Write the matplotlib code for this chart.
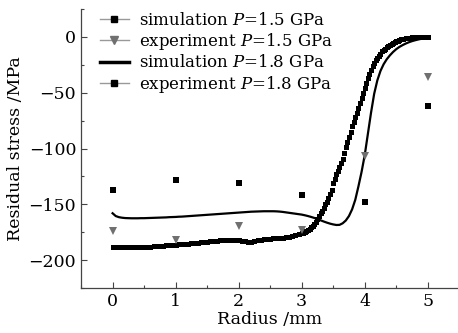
import numpy as np
import matplotlib
matplotlib.use("Agg")
import matplotlib.pyplot as plt
from matplotlib.lines import Line2D

plt.rcParams['font.family'] = ['DejaVu Serif']
plt.rcParams['mathtext.fontset'] = 'custom'
plt.rcParams['mathtext.rm'] = 'DejaVu Serif'
plt.rcParams['mathtext.it'] = 'DejaVu Serif:italic'

# ---- data ----
# simulation P=1.5 GPa
sim15_x_flat = np.round(np.arange(0.0, 2.951, 0.05), 3)
sim15_y_flat = [-188.0, -188.3, -188.5, -188.5, -188.5, -188.5, -188.4, -188.3, -188.2, -188.1,
                -188.0, -187.9, -187.8, -187.6, -187.4, -187.2, -187.0, -186.8, -186.6, -186.3,
                -186.0, -185.8, -185.6, -185.4, -185.2, -185.0, -184.7, -184.4, -184.1, -183.8,
                -183.5, -183.2, -182.9, -182.6, -182.3, -182.0, -181.8, -181.6, -181.6, -181.8,
                -182.2, -182.8, -183.3, -183.6, -183.5, -183.0, -182.4, -181.8, -181.4, -181.0,
                -180.8, -180.6, -180.4, -180.2, -180.0, -179.6, -179.2, -178.6, -177.8, -177.0]
sim15_x_steep = np.round(np.arange(3.0, 4.6001, 0.025), 3)
sim15_y_steep = [-176, -175.5, -175, -174, -173, -172, -170.5, -169, -167.5, -165.5,
                 -163, -160.5, -158, -156, -153, -150, -147.5, -144.5, -141, -137,
                 -131, -127, -123, -120, -117, -113, -109, -104, -99, -94.5,
                 -90, -85, -80, -76, -72, -68, -64, -59, -55, -50,
                 -45.5, -41, -37, -33.5, -30, -26.5, -23.5, -21, -19, -17,
                 -15, -13, -12, -10.5, -9, -8, -7, -6, -5.3, -4.5,
                 -4, -3.4, -2.8, -2.3, -1.9]
sim15_x_tail = np.round(np.arange(4.65, 5.001, 0.05), 3)
sim15_y_tail = [-1.2, -0.8, -0.5, -0.3, 0, 0, 0, 0]

# simulation P=1.8 GPa
sim18_x = np.round(np.arange(0.0, 5.001, 0.05), 3)
sim18_y = [-158.0, -160.5, -161.5, -162.0, -162.3, -162.4, -162.5, -162.5, -162.5, -162.4,
           -162.4, -162.3, -162.2, -162.1, -162.0, -161.9, -161.8, -161.7, -161.5, -161.4,
           -161.3, -161.1, -161.0, -160.8, -160.6, -160.4, -160.2, -160.0, -159.8, -159.6,
           -159.4, -159.2, -159.0, -158.8, -158.6, -158.4, -158.2, -158.0, -157.8, -157.6,
           -157.4, -157.2, -157.0, -156.8, -156.6, -156.5, -156.4, -156.3, -156.2, -156.2,
           -156.2, -156.2, -156.3, -156.5, -156.8, -157.2, -157.6, -158.0, -158.4, -158.8,
           -159.2, -159.8, -160.5, -161.3, -162.2, -163.2, -164.3, -165.4, -166.4, -167.3,
           -168.0, -168.5, -168.4, -167.0, -164.5, -160.5, -154.5, -146.0, -134.0, -121.0,
           -106.0, -87.0, -68.0, -51.0, -39.0, -30.5, -24.5, -20.0, -16.5, -13.5,
           -11.0, -9.0, -7.4, -6.0, -4.8, -3.8, -3.0, -2.3, -1.7, -1.2, -0.8]

# experiments
exp_x = [0, 1, 2, 3, 4, 5]
exp15_y = [-174, -182, -169, -173, -107, -36]
exp18_y = [-137, -128, -131, -142, -148, -62]

labels = ["simulation $P$=1.5 GPa", "experiment $P$=1.5 GPa",
          "simulation $P$=1.8 GPa", "experiment $P$=1.8 GPa"]

# ---- plot ----
fig = plt.figure(figsize=(4.58, 3.33), dpi=100)
ax = fig.add_axes([0.177, 0.135, 0.823, 0.838])

sim15_x = np.concatenate([sim15_x_flat, sim15_x_steep, sim15_x_tail])
sim15_y = np.concatenate([sim15_y_flat, sim15_y_steep, sim15_y_tail])

ax.plot(sim15_x, sim15_y, linestyle='none', marker='s', ms=3.6, color='black', mew=0)
ax.plot(sim18_x, sim18_y, color='black', lw=1.6)
ax.plot(exp_x, exp15_y, linestyle='none', marker='v', ms=6, color='#707070', mew=0)
ax.plot(exp_x, exp18_y, linestyle='none', marker='s', ms=4.5, color='black', mew=0)

ax.set_xlim(-0.5, 5.48)
ax.set_ylim(-225, 25)
ax.set_xticks([0, 1, 2, 3, 4, 5])
ax.set_xticks(np.arange(-0.5, 5.5, 0.5), minor=True)
ax.set_yticks([-200, -150, -100, -50, 0])
ax.set_yticks([-225, -175, -125, -75, -25, 25], minor=True)
ax.tick_params(which='both', direction='in', labelsize=12.5, colors='#444444', labelcolor='black')
ax.tick_params(which='major', length=4, width=0.8)
ax.tick_params(which='minor', length=2.5, width=0.8)
for s in ['top', 'right']:
    ax.spines[s].set_visible(False)
for s in ['left', 'bottom']:
    ax.spines[s].set_color('#444444')
    ax.spines[s].set_linewidth(0.9)

ax.set_xlabel("Radius /mm", fontsize=12.5, labelpad=1)
ax.set_ylabel("Residual stress /MPa", fontsize=12.5, labelpad=3)

handles = [
    Line2D([], [], color='#999999', lw=1, marker='s', ms=4, mfc='black', mec='black'),
    Line2D([], [], color='#999999', lw=1, marker='v', ms=5.5, mfc='#707070', mec='#707070'),
    Line2D([], [], color='black', lw=2.5),
    Line2D([], [], color='#999999', lw=1, marker='s', ms=4, mfc='black', mec='black'),
]
ax.legend(handles, labels, loc='upper left', bbox_to_anchor=(0.05, 0.99), frameon=False,
          fontsize=12, handlelength=1.75, handletextpad=0.6, labelspacing=0.14,
          borderaxespad=0, borderpad=0)

fig.savefig("out.png", dpi=100)
